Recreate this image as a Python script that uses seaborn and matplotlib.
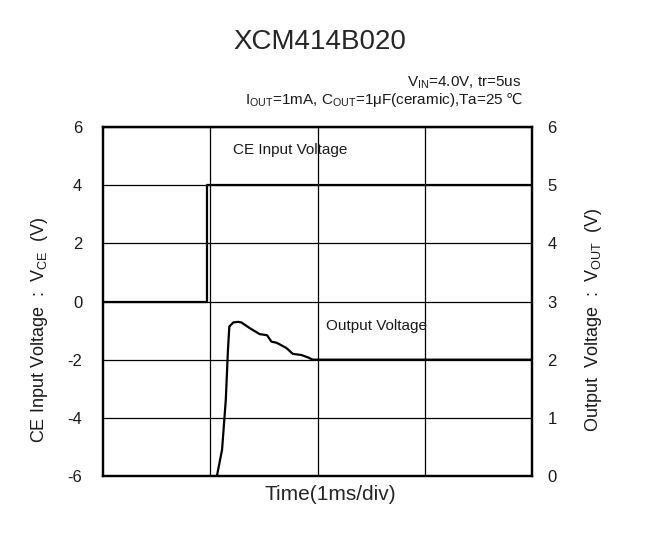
import matplotlib
matplotlib.use("Agg")
import matplotlib.pyplot as plt
import numpy as np
import pandas as pd
import seaborn as sns

# ---- data ----
title = "XCM414B020"
cond_line1 = r"V$_{\mathrm{IN}}$=4.0V, tr=5us"
cond_line2 = r"I$_{\mathrm{OUT}}$=1mA, C$_{\mathrm{OUT}}$=1μF(ceramic),Ta=25"
cond_unit = "℃"
xlabel = "Time(1ms/div)"
ylabel_left = r"CE Input Voltage  :  V$_{\mathrm{CE}}$  (V)"
ylabel_right = r"Output  Voltage  :  V$_{\mathrm{OUT}}$  (V)"

ce_time = [0.0, 0.97, 0.97, 4.0]          # ms
ce_volt = [0.0, 0.0, 4.0, 4.0]            # V (left axis)

out_time = [0.98, 1.06, 1.11, 1.145, 1.165, 1.178, 1.215, 1.26, 1.29, 1.37,
            1.46, 1.53, 1.57, 1.62, 1.71, 1.77, 1.85, 1.91, 1.955, 1.98, 4.0]
out_volt = [-0.02, -0.02, 0.45, 1.31, 2.17, 2.57, 2.64, 2.65, 2.64, 2.54,
            2.44, 2.42, 2.31, 2.29, 2.20, 2.10, 2.08, 2.04, 2.00, 2.00, 2.00]

left_ticks = [-6, -4, -2, 0, 2, 4, 6]
right_ticks = [0, 1, 2, 3, 4, 5, 6]
x_grid = [1, 2, 3]

# ---- style ----
sns.set_style("white")
plt.rcParams["font.family"] = ["Liberation Sans", "DejaVu Sans"]
plt.rcParams["mathtext.fontset"] = "custom"
plt.rcParams["mathtext.rm"] = "Liberation Sans"
plt.rcParams["mathtext.it"] = "Liberation Sans"
plt.rcParams["mathtext.bf"] = "Liberation Sans"
plt.rcParams["axes.unicode_minus"] = False

fig = plt.figure(figsize=(6.57, 5.49), dpi=100)
ax = fig.add_axes([103 / 657, 1 - 476 / 549, 429 / 657, 349 / 549])

ce_df = pd.DataFrame({"t": ce_time, "v": ce_volt})
sns.lineplot(data=ce_df, x="t", y="v", ax=ax, color="black", lw=1.6,
             estimator=None, sort=False)
ax.set_xlim(0, 4)
ax.set_ylim(-6, 6)
ax.set_yticks(left_ticks)
ax.set_xticks(x_grid)
ax.set_xticklabels([])
ax.grid(True, color="black", lw=0.9)
ax.set_axisbelow(True)
ax.tick_params(axis="y", length=0, pad=15, labelsize=12, colors="#1a1a1a")
ax.tick_params(axis="x", length=0)
ax.set_xlabel("")
ax.set_ylabel("")
for s in ax.spines.values():
    s.set_color("black")
    s.set_linewidth(1.6)

ax2 = ax.twinx()
out_df = pd.DataFrame({"t": out_time, "v": out_volt})
sns.lineplot(data=out_df, x="t", y="v", ax=ax2, color="black", lw=1.6,
             estimator=None, sort=False)
ax2.set_ylim(0, 6)
ax2.set_yticks(right_ticks)
ax2.set_xlim(0, 4)
ax2.grid(False)
ax2.tick_params(axis="y", length=0, pad=11, labelsize=12, colors="#1a1a1a")
ax2.set_ylabel("")
for s in ax2.spines.values():
    s.set_color("black")
    s.set_linewidth(1.6)

ax.text(1.21, 5.21, "CE Input Voltage", fontsize=11, va="center", ha="left",
        color="#1a1a1a")
ax.text(2.08, -0.84, "Output Voltage", fontsize=11, va="center", ha="left",
        color="#1a1a1a")

fig.text(320 / 657, 1 - 42 / 549, title, fontsize=20, ha="center", va="center")
fig.text(521 / 657, 1 - 83 / 549, cond_line1, fontsize=11, ha="right", va="center",
         color="#1a1a1a")
unit_txt = fig.text(522 / 657, 1 - 104 / 549, cond_unit, fontsize=10.5, ha="right",
                    va="baseline", color="#1a1a1a", family=["DejaVu Sans"])
ax.annotate(cond_line2, xy=(0, 0), xycoords=unit_txt, ha="right", va="baseline",
            fontsize=11, color="#1a1a1a", annotation_clip=False,
            xytext=(-1.5, 2.0), textcoords="offset points")
fig.text(330 / 657, 1 - 495 / 549, xlabel, fontsize=15, ha="center", va="center")
fig.text(40 / 657, 1 - 330 / 549, ylabel_left, fontsize=13, rotation=90,
         ha="center", va="center", color="#1a1a1a")
fig.text(593 / 657, 1 - 320 / 549, ylabel_right, fontsize=13, rotation=90,
         ha="center", va="center", color="#1a1a1a")

fig.savefig("out.png", dpi=100)
